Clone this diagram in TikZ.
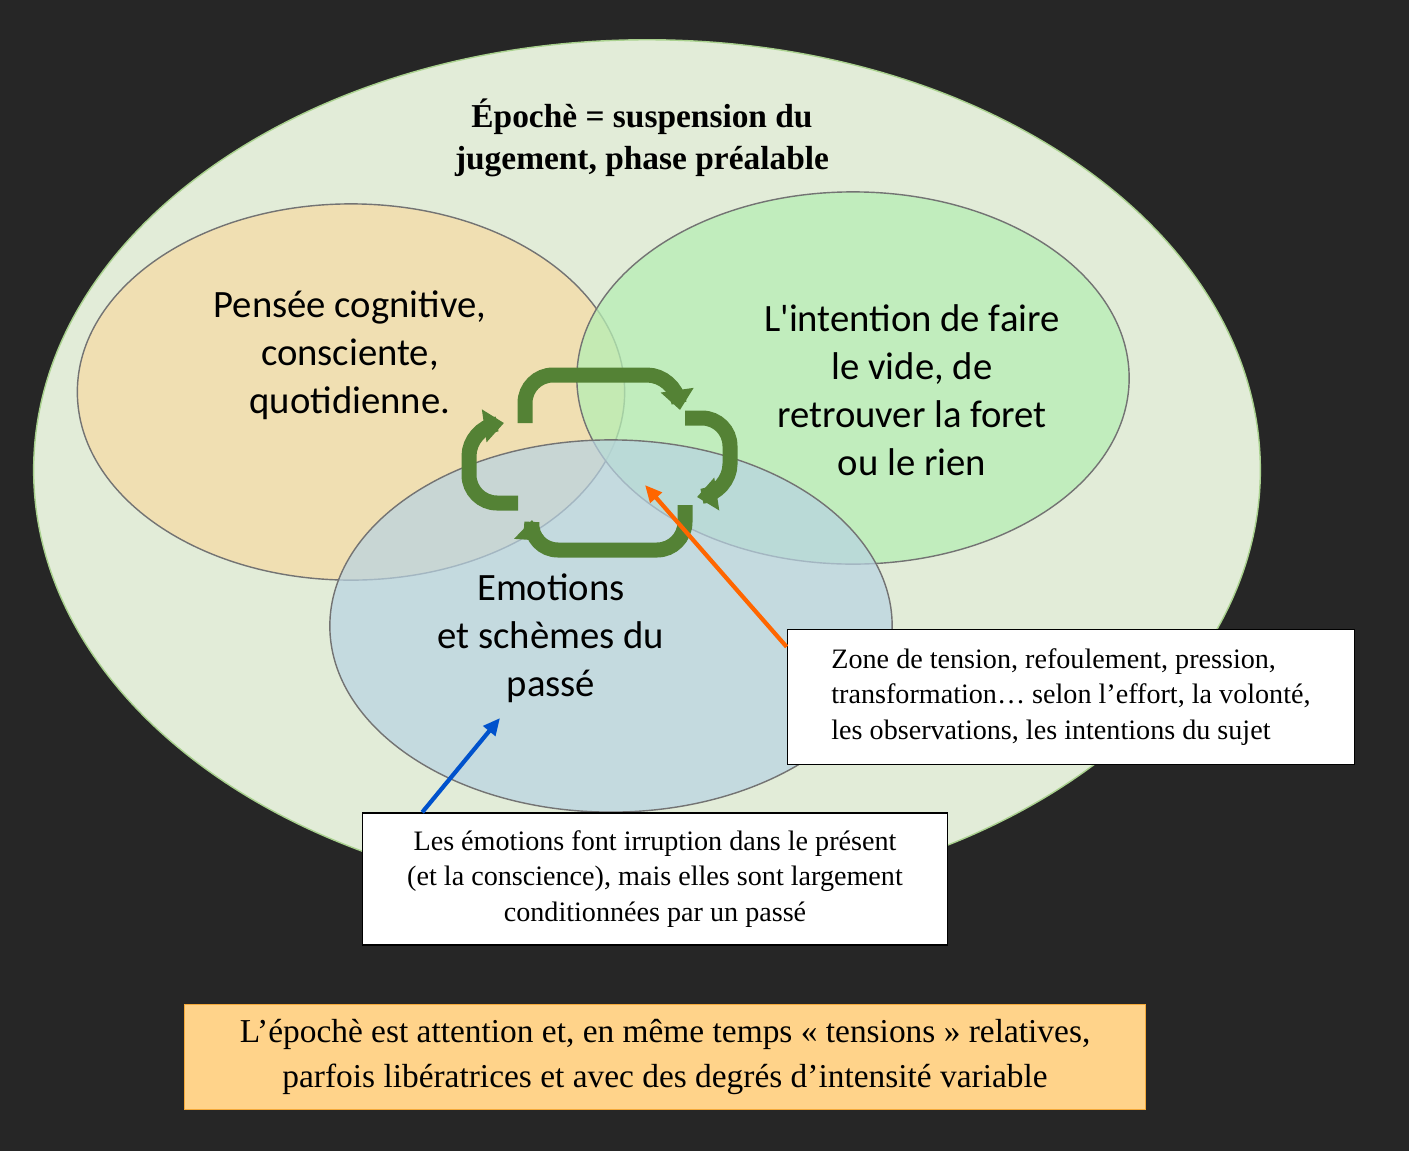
\documentclass[tikz,border=0pt]{standalone}
\usepackage{fontspec}
\setmainfont{Liberation Serif}
\newfontfamily\calib{Carlito}
\usetikzlibrary{shapes.geometric,arrows.meta}
\definecolor{bgdark}{HTML}{262626}
\definecolor{epfill}{HTML}{E2ECD8}
\definecolor{epline}{HTML}{A9D18E}
\definecolor{penfill}{HTML}{F0DFB2}
\definecolor{intfill}{HTML}{B6EEB4}
\definecolor{emofill}{HTML}{B8D3E3}
\definecolor{cyclegreen}{HTML}{548235}
\definecolor{boxorange}{HTML}{FFD38A}
\definecolor{boxline}{HTML}{F4A93A}
\begin{document}
\begin{tikzpicture}[
    x=0.01cm, y=-0.01cm,
    zone/.style={
      ellipse,
      draw=black!55,
      thin
    },
    zonetext/.style={
      font=\calib\fontsize{11}{13.6}\selectfont,
      align=center
    },
    cycle/.style={
      cyclegreen,
      line width=0.15cm,
      rounded corners=0.28cm,
      -{Triangle[width=0.32cm,length=0.2cm]}
    },
    note/.style={
      draw=black,
      fill=white,
      thin,
      font=\fontsize{8}{10}\selectfont,
      inner sep=0pt
    }
  ]

  \fill[bgdark] (0,0) rectangle (1409,1151);
  \useasboundingbox (0,0) rectangle (1409,1151);

  \node (ep) at (647,470) [zone,draw=epline,fill=epfill,minimum width=12.26cm,minimum height=8.6cm]{};
  \node (pen) at (351,392) [zone,fill=penfill,minimum width=5.47cm,minimum height=3.76cm]{};
  \node (int) at (853,378) [zone,fill=intfill,fill opacity=0.75,minimum width=5.52cm,minimum height=3.72cm]{};
  \node (emo) at (611,626) [zone,fill=emofill,fill opacity=0.7,minimum width=5.62cm,minimum height=3.72cm]{};

  \node (titre) at (642,138) [font=\bfseries\fontsize{9.5}{11.9}\selectfont,align=center]
    {Épochè = suspension du\\jugement, phase préalable};
  \node (tpen) at (350,355) [zonetext]{Pensée cognitive,\\consciente,\\quotidienne.};
  \node (tint) at (912,390) [zonetext]{L'intention de faire\\le vide, de\\retrouver la foret\\ou le rien};
  \node (temo) at (551,638) [zonetext]{Emotions\\et schèmes du\\passé};

  % cycle
  \draw[cycle] (525,423) -- (525,375) -- (675,375) -- (680,410);
  \draw[cycle] (685,418) -- (730,418) -- (730,492) -- (697,497);
  \draw[cycle] (685,505) -- (685,550) -- (530,550) -- (532,520);
  \draw[cycle] (518,503) -- (469,503) -- (469,428) -- (504,423);

  \node (zt) at (1071,697) [note,minimum width=5.67cm,minimum height=1.35cm,align=left]
    {Zone de tension, refoulement, pression,\\transformation… selon l’effort, la volonté,\\les observations, les intentions du sujet};
  \node (irr) at (655,879) [note,minimum width=5.85cm,minimum height=1.32cm,align=center]
    {Les émotions font irruption dans le présent\\(et la conscience), mais elles sont largement\\conditionnées par un passé};
  \node (att) at (665,1057) [draw=boxline,fill=boxorange,minimum width=9.6cm,minimum height=1.05cm,
    align=center,font=\fontsize{9.5}{12.6}\selectfont]
    {L’épochè est attention et, en même temps « tensions » relatives,\\parfois libératrices et avec des degrés d’intensité variable};

  \coordinate (zc) at (645,485);
  \coordinate (ec) at (500,718);
  \draw[-{Triangle[width=0.15cm,length=0.17cm]},draw=orange!80!red,fill=orange!80!red,line width=1.2pt] (zt.170) -- (zc);
  \draw[-{Triangle[width=0.15cm,length=0.17cm]},draw=blue!60!cyan!80!black,fill=blue!60!cyan!80!black,line width=1.2pt] (irr.164) -- (ec);

\end{tikzpicture}
\end{document}
